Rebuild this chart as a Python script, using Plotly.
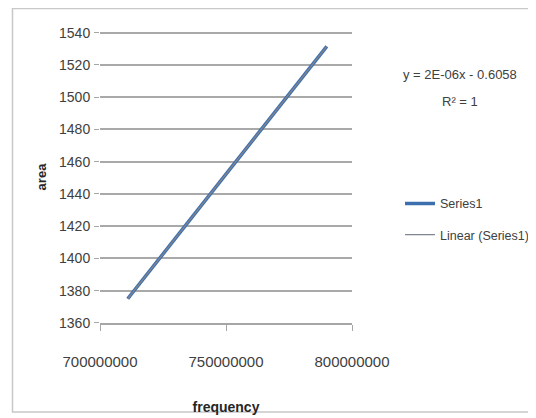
import numpy as np
import plotly.graph_objects as go

# ---- data ----
frequency = [711000000, 790000000]
area = [1375, 1531.5]
y_ticks = [1360, 1380, 1400, 1420, 1440, 1460, 1480, 1500, 1520, 1540]
x_ticks = [700000000, 750000000, 800000000]
x_tick_labels = ["700000000", "750000000", "800000000"]
equation_text = "y = 2E-06x - 0.6058"
r2_text = "R² = 1"
series_name = "Series1"
trend_name = "Linear (Series1)"

# linear trendline of the series
coef = np.polyfit(frequency, area, 1)
trend_y = [coef[0] * f + coef[1] for f in frequency]

FONT = "Liberation Sans, Arial, sans-serif"
TXT = "#404040"

# page body has an 8px margin, so the figure is laid out 8px up/left
W, H = 528, 410
Y0, Y1 = 1359.95, 1541.0
SC = 290 / 180.0                       # px per y unit
L, R = 92, 184
T = 25 - (Y1 - 1540) * SC
B = H - (315 + (1360 - Y0) * SC)
PW, PH = W - L - R, H - T - B


def px(x):
    return (x - L) / PW


def py(y):
    return (H - B - y) / PH


fig = go.Figure()
fig.add_trace(go.Scatter(
    x=frequency, y=area, mode="lines", name=series_name,
    line=dict(color="#3d6fae", width=3.5), legendgroup="a",
))
fig.add_trace(go.Scatter(
    x=frequency, y=trend_y, mode="lines", name=trend_name,
    line=dict(color="#7f8590", width=1.3), legendgroup="b",
))

fig.update_layout(
    width=W, height=H,
    margin=dict(l=L, r=R, t=T, b=B, autoexpand=False),
    paper_bgcolor="white", plot_bgcolor="white",
    font=dict(family=FONT, size=13, color=TXT),
    showlegend=True,
    legend=dict(
        x=px(392), y=py(181), xanchor="left", yanchor="top",
        bgcolor="rgba(0,0,0,0)", tracegroupgap=12,
        font=dict(family=FONT, size=12.5, color=TXT),
        itemwidth=30,
    ),
    xaxis=dict(
        range=[700000000, 800000000],
        tickvals=x_ticks, ticktext=x_tick_labels,
        showgrid=False, zeroline=False,
        showline=True, linecolor="#a6a6a6", linewidth=1.5,
        ticks="outside", ticklen=6, tickcolor="#a6a6a6",
        ticklabelstandoff=18,
        tickfont=dict(family=FONT, size=15, color=TXT),
        title=dict(text="<b>frequency</b>", standoff=33,
                   font=dict(family=FONT, size=14, color="#262626")),
    ),
    yaxis=dict(
        range=[Y0, Y1],
        tickvals=y_ticks,
        showgrid=True, gridcolor="#a9a9a9", gridwidth=1.6,
        zeroline=False, showline=False,
        ticks="outside", ticklen=5, tickcolor="#a6a6a6",
        ticklabelstandoff=1,
        tickfont=dict(family=FONT, size=14, color=TXT),
        title=dict(text="<b>area</b>", standoff=9,
                   font=dict(family=FONT, size=13, color="#262626")),
    ),
    annotations=[
        dict(text=equation_text, xref="paper", yref="paper",
             x=px(452), y=py(67),
             showarrow=False, xanchor="center", yanchor="middle",
             font=dict(family=FONT, size=13, color=TXT)),
        dict(text=r2_text, xref="paper", yref="paper",
             x=px(452), y=py(94),
             showarrow=False, xanchor="center", yanchor="middle",
             font=dict(family=FONT, size=13, color=TXT)),
    ],
    shapes=[
        dict(type="rect", xref="paper", yref="paper",
             x0=px(4.5), x1=px(524), y0=py(404), y1=py(0.8),
             line=dict(color="#c8c8c8", width=1.5), layer="above"),
    ],
)

fig.write_html("out.html")
